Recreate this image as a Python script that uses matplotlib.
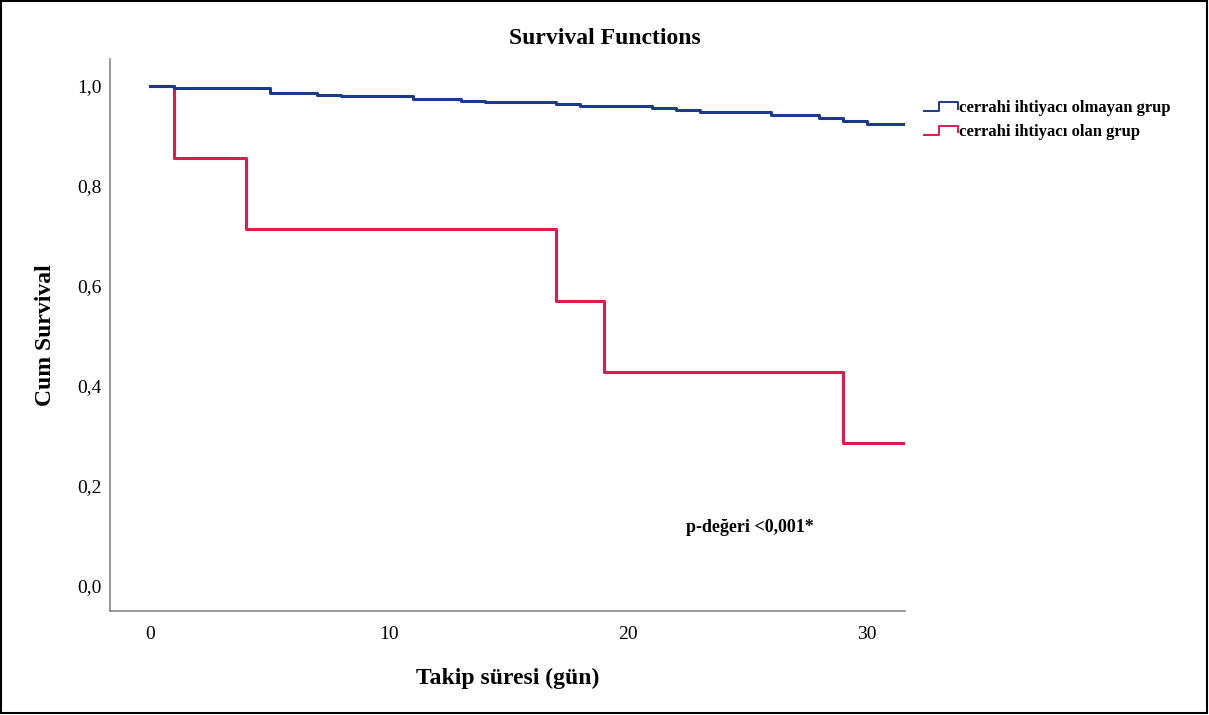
import numpy as np
import matplotlib.pyplot as plt
from matplotlib.legend_handler import HandlerLine2D
from matplotlib.lines import Line2D
from matplotlib.patches import Rectangle

plt.rcParams['font.family'] = ['Liberation Serif', 'DejaVu Serif']

# step times (days) and survival after each step
blue_times = [0, 1, 5, 7, 8, 11, 13, 14, 17, 18, 21, 22, 23, 26, 28, 29, 30, 31.6]
blue_surv = [1.0, 0.997, 0.987, 0.983, 0.980, 0.975, 0.971, 0.968, 0.964, 0.961,
             0.957, 0.953, 0.949, 0.943, 0.937, 0.931, 0.925, 0.925]
red_times = [0, 1, 4, 17, 19, 29, 31.6]
red_surv = [1.0, 0.857, 0.714, 0.571, 0.429, 0.286, 0.286]

blue_label = 'cerrahi ihtiyacı olmayan grup'
red_label = 'cerrahi ihtiyacı olan grup'
blue_col = '#1c3a8a'
red_col = '#e2194b'


class StepHandler(HandlerLine2D):
    def create_artists(self, legend, orig_handle, xdescent, ydescent,
                       width, height, fontsize, trans):
        xs = [-xdescent, -xdescent + width * 0.45, -xdescent + width * 0.45,
              -xdescent + width, -xdescent + width]
        ys = [height * 0.1, height * 0.1, height * 0.85, height * 0.85, height * 0.3]
        ln = Line2D(xs, ys, color=orig_handle.get_color(), lw=1.4)
        ln.set_transform(trans)
        return [ln]


fig = plt.figure(figsize=(12.09, 7.15), dpi=100)
ax = fig.add_axes([110 / 1209, 1 - 611 / 715, 795 / 1209, 552 / 715])

# step lines: value after the step holds until the next time
ax.step(blue_times, blue_surv, where='post', color=blue_col, lw=2.2, label=blue_label, zorder=3)
ax.step(red_times, red_surv, where='post', color=red_col, lw=2.2, label=red_label, zorder=2)

ax.set_xlim(-1.68, 31.6)
ax.set_ylim(-0.05, 1.054)
ax.set_xticks([0, 10, 20, 30])
ax.set_yticks([0.0, 0.2, 0.4, 0.6, 0.8, 1.0])
ax.set_yticklabels(['0,0', '0,2', '0,4', '0,6', '0,8', '1,0'])
ax.tick_params(length=0, labelsize=14)
ax.tick_params(axis='y', pad=6)
ax.tick_params(axis='x', pad=11)

for s in ['top', 'right']:
    ax.spines[s].set_visible(False)
for s in ['left', 'bottom']:
    ax.spines[s].set_color('#888888')
    ax.spines[s].set_linewidth(1.2)

fig.text(605 / 1209, 1 - 38 / 715, 'Survival Functions', fontsize=17, fontweight='bold',
         ha='center', va='center')
ax.set_xlabel('Takip süresi (gün)', fontsize=17, fontweight='bold', labelpad=18)
ax.set_ylabel('Cum Survival', fontsize=17, fontweight='bold', labelpad=15)

ax.text(25.1, 0.118, 'p-değeri <0,001*', fontsize=13, fontweight='bold', va='center', ha='center')

fig.legend(handler_map={Line2D: StepHandler()}, loc='upper left',
           bbox_to_anchor=(916 / 1209, 1 - 92 / 715), frameon=False,
           prop={'weight': 'bold', 'size': 12}, handlelength=2.0,
           handletextpad=0.1, labelspacing=0.45, borderpad=0)

# outer frame
fig.patches.append(Rectangle((0.001, 0.003), 0.997, 0.996, transform=fig.transFigure,
                             fill=False, edgecolor='black', lw=1.5))

fig.savefig('out.png', dpi=100)
